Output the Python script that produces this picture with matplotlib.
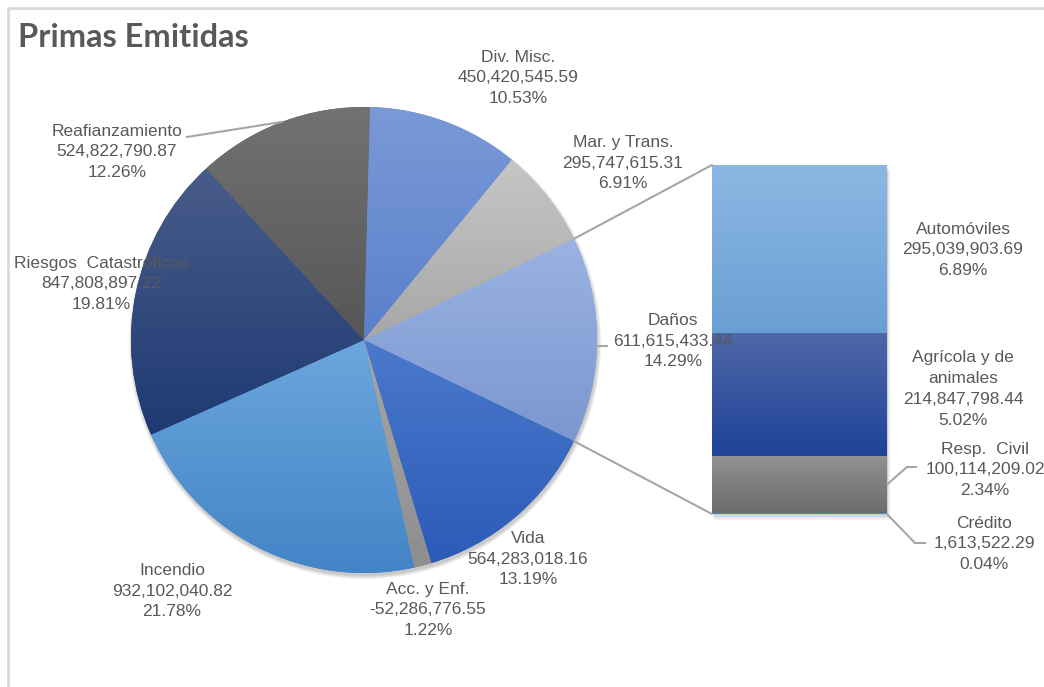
import numpy as np
import matplotlib
matplotlib.use("Agg")
import matplotlib.pyplot as plt
from matplotlib.patches import ConnectionPatch, Circle, Rectangle
from matplotlib.colors import LinearSegmentedColormap

plt.rcParams['font.family'] = ['Liberation Sans', 'DejaVu Sans']

# datos del pastel principal (Daños se abre en la barra)
ramos = ['Daños', 'Vida', 'Acc. y Enf.', 'Incendio', 'Riesgos  Catastróficos',
         'Reafianzamiento', 'Div. Misc.', 'Mar. y Trans.']
primas = [611615433.44, 564283018.16, -52286776.55, 932102040.82, 847808897.22,
          524822790.87, 450420545.59, 295747615.31]

# desglose de Daños (de arriba hacia abajo)
sub_ramos = ['Automóviles', 'Agrícola y de\nanimales', 'Resp.  Civil', 'Crédito']
sub_primas = [295039903.69, 214847798.44, 100114209.02, 1613522.29]

# colores (arriba, abajo) del degradado
col_pie = [('#9bb3e3', '#7a97cf'), ('#4b79cd', '#2b5bb7'), ('#a8a8a8', '#8e8e8e'),
           ('#6ca7dd', '#4284c7'), ('#485c8a', '#1e3a72'), ('#727272', '#565656'),
           ('#7a99d7', '#5a7fcb'), ('#c6c6c6', '#a7a7a7')]
col_bar = [('#8cb8e3', '#6a9fd4'), ('#4e67a8', '#204399'), ('#929292', '#6c6c6c'),
           ('#3d8ad8', '#3d8ad8')]

texto = '#595959'
linea = '#a6a6a6'

W, H = 1044, 687
fig = plt.figure(figsize=(W / 100, H / 100), dpi=100)
ax = fig.add_axes([0, 0, 1, 1])
ax.patch.set_visible(False)

total = sum(abs(v) for v in primas)
cx, cy, R = 364, 340, 233
start = -abs(primas[0]) / total * 180

# sombra suave
for k in range(5):
    ax.add_patch(Circle((cx + 1, cy + 3), R + k * 0.8, color='black',
                        alpha=0.045, lw=0, zorder=0))

wedges, _ = ax.pie([abs(v) for v in primas], center=(cx, cy), radius=R,
                   startangle=start, counterclock=True,
                   wedgeprops=dict(linewidth=0), colors=[c[1] for c in col_pie])


def degradado(axis, patch, c_top, c_bot, ext, z):
    cmap = LinearSegmentedColormap.from_list('g', [c_top, c_bot])
    grad = np.linspace(0, 1, 256).reshape(-1, 1)
    im = axis.imshow(grad, cmap=cmap, extent=ext, aspect='auto',
                     interpolation='bilinear', zorder=z)
    im.set_clip_path(patch)


for w, (ct, cb) in zip(wedges, col_pie):
    w.set_zorder(1)
    b = w.get_path().get_extents()
    degradado(ax, w, ct, cb, (b.x0, b.x1, b.y1, b.y0), 2)

# barra de Daños
bax = fig.add_axes([712 / W, (H - 514) / H, 175 / W, 349 / H])
bax.set_zorder(ax.get_zorder() - 1)
sub_total = sum(sub_primas)
bottom = 0
barras = {}
for nombre, v, (ct, cb) in list(zip(sub_ramos, sub_primas, col_bar))[::-1]:
    r = bax.bar(0, v, width=1, bottom=bottom, color=cb, linewidth=0, zorder=1)[0]
    degradado(bax, r, ct, cb, (-0.5, 0.5, bottom, bottom + v), 2)
    barras[nombre] = (bottom, bottom + v)
    bottom += v
bax.set_xlim(-0.5, 0.5)
bax.set_ylim(0, sub_total)
bax.axis('off')

# sombra de la barra
for k in range(4):
    bax.add_patch(Rectangle((-0.5 + 0.004 * k, -sub_total * 0.004 * (k + 1)),
                            1.0 + 0.004, sub_total, color='black', alpha=0.05,
                            lw=0, zorder=0, clip_on=False))

# lineas de conexion pastel -> barra
th1 = np.deg2rad(wedges[0].theta1)
th2 = np.deg2rad(wedges[0].theta2)
for th, yb in [(th1, sub_total), (th2, 0)]:
    con = ConnectionPatch(xyA=(cx + R * np.cos(th), cy + R * np.sin(th)), coordsA=ax.transData,
                          xyB=(-0.5, yb), coordsB=bax.transData, color=linea, lw=1.5)
    fig.add_artist(con)

# etiquetas
posiciones = [(673, 341), (528, 559), (428, 610), (172, 591), (101, 284),
              (117, 152), (518, 78), (623, 163)]
for nombre, v, (x, y) in zip(ramos, primas, posiciones):
    ax.text(x, y, f'{nombre}\n{v:,.2f}\n{abs(v) / total * 100:.2f}%',
            ha='center', va='center', fontsize=12.5, color=texto,
            linespacing=1.48, zorder=10)

pos_sub = [(963, 250), (963, 389), (985, 470), (984, 544)]
for nombre, v, (x, y) in zip(sub_ramos, sub_primas, pos_sub):
    ax.text(x, y, f'{nombre}\n{v:,.2f}\n{v / total * 100:.2f}%',
            ha='center', va='center', fontsize=12.5, color=texto,
            linespacing=1.48, zorder=10)

# lineas guia
ang_reaf = np.deg2rad((wedges[5].theta1 + wedges[5].theta2) / 2)
ax.plot([cx + R * np.cos(ang_reaf), 187], [cy + R * np.sin(ang_reaf), 137],
        color=linea, lw=1.5, zorder=5)
ax.plot([cx + R, 607], [346, 346], color=linea, lw=1.5, zorder=5)

rc = barras['Resp.  Civil']
fig.add_artist(ConnectionPatch(xyA=(0.5, (rc[0] + rc[1]) / 2), coordsA=bax.transData,
                               xyB=(907, 467), coordsB=ax.transData, color=linea, lw=1.5))
ax.plot([907, 916], [467, 467], color=linea, lw=1.5, zorder=5)
fig.add_artist(ConnectionPatch(xyA=(0.5, 0), coordsA=bax.transData,
                               xyB=(915, 543), coordsB=ax.transData, color=linea, lw=1.5))
ax.plot([915, 925], [543, 543], color=linea, lw=1.5, zorder=5)

# marco y titulo
ax.plot([8, 8, W], [H, 8, 8], color='#d9d9d9', lw=2, zorder=0)
ax.text(18, 47, 'Primas Emitidas', fontsize=23.5, fontweight='bold', color=texto,
        family=['Lato', 'DejaVu Sans'], va='baseline', ha='left')

ax.set_xlim(0, W)
ax.set_ylim(H, 0)
ax.set_aspect('equal')
ax.axis('off')

plt.savefig('out.png', dpi=100)
